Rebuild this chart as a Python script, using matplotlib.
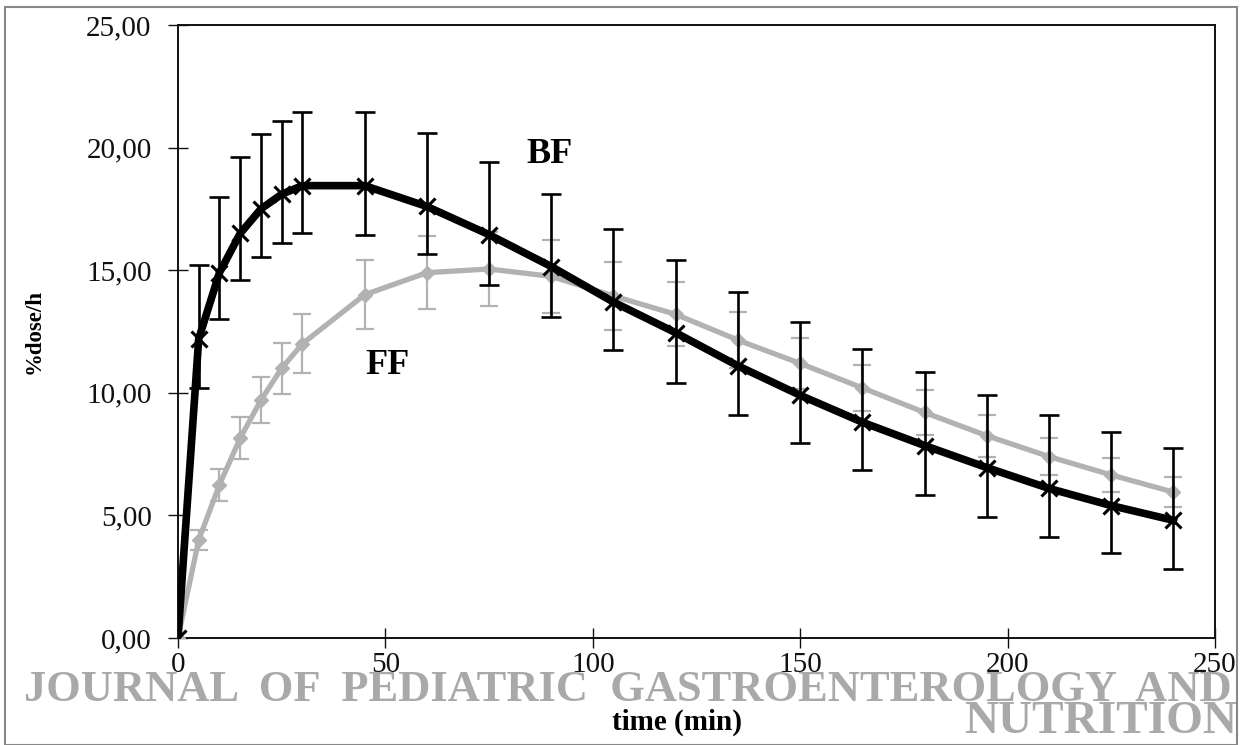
import matplotlib
matplotlib.use("Agg")
import matplotlib.pyplot as plt
from matplotlib.patches import Rectangle
from matplotlib.ticker import FuncFormatter
import numpy as np

# time points (min)
time_min = [0, 5, 10, 15, 20, 25, 30, 45, 60, 75, 90, 105, 120, 135, 150,
            165, 180, 195, 210, 225, 240]

# BF series: curve values and the ends of the error bars
bf_mean = [0, 12.2, 14.9, 16.5, 17.5, 18.1, 18.45, 18.45, 17.6, 16.45, 15.15,
           13.7, 12.45, 11.1, 9.9, 8.8, 7.85, 6.95, 6.1, 5.4, 4.8]
bf_top = [0, 15.2, 18.0, 19.6, 20.55, 21.1, 21.45, 21.45, 20.6, 19.4, 18.1,
          16.7, 15.4, 14.1, 12.9, 11.8, 10.85, 9.9, 9.1, 8.4, 7.75]
bf_bottom = [0, 10.2, 13.0, 14.6, 15.55, 16.1, 16.5, 16.45, 15.65, 14.4, 13.1,
             11.75, 10.4, 9.1, 7.95, 6.85, 5.85, 4.95, 4.1, 3.45, 2.8]

# FF series: curve values and symmetric error
ff_mean = [0, 4.0, 6.25, 8.15, 9.7, 11.0, 12.0, 14.0, 14.9, 15.05, 14.75,
           13.95, 13.2, 12.15, 11.2, 10.2, 9.2, 8.25, 7.4, 6.65, 5.95]
ff_err = [0, 0.4, 0.65, 0.85, 0.95, 1.05, 1.2, 1.4, 1.5, 1.5, 1.5,
          1.4, 1.3, 1.15, 1.05, 0.95, 0.9, 0.85, 0.75, 0.7, 0.6]

y_ticks = [0, 5, 10, 15, 20, 25]
x_ticks = [0, 50, 100, 150, 200, 250]

serif = ['Liberation Serif', 'DejaVu Serif']
gray = '#b2b2b2'
mark_gray = '#a9a9a9'

fig = plt.figure(figsize=(12.41, 7.45), dpi=100)
ax = fig.add_axes([0.1434, 0.1436, 0.8356, 0.8228])

t = np.array(time_min)
bf = np.array(bf_mean)
ff = np.array(ff_mean)

# FF error bars and line
ax.errorbar(t[1:], ff[1:], yerr=np.array(ff_err)[1:], fmt='none',
            ecolor=gray, elinewidth=1.6, capsize=6.5, capthick=1.6, zorder=2)
ax.plot(t, ff, color=gray, lw=3.8, marker='D', ms=7, mfc=gray, mec=gray,
        zorder=3)

# BF error bars and line
bf_yerr = np.array([bf - np.array(bf_bottom), np.array(bf_top) - bf])
ax.errorbar(t[1:], bf[1:], yerr=bf_yerr[:, 1:], fmt='none',
            ecolor='black', elinewidth=1.9, capsize=7.5, capthick=1.9, zorder=4)
ax.plot(t, bf, color='black', lw=5.5, marker='x', ms=12, mew=2.2,
        mec='black', zorder=5)

ax.set_xlim(0, 250)
ax.set_ylim(0, 25)
ax.set_xticks(x_ticks)
ax.set_yticks(y_ticks)
ax.yaxis.set_major_formatter(FuncFormatter(lambda v, p: f"{v:.2f}".replace('.', ',')))

for s in ax.spines.values():
    s.set_linewidth(1.4)
    s.set_color('#111111')

ax.tick_params(direction='inout', length=14, width=1.0, colors='#111111',
               labelsize=21, pad=3)
ax.tick_params(axis='y', pad=12)
for lab in ax.get_xticklabels() + ax.get_yticklabels():
    lab.set_family(serif)

ax.set_ylabel('%dose/h', family=serif, fontweight='bold', fontsize=16.5,
              labelpad=30)

# series labels
ax.text(89.5, 19.7, 'BF', family=serif, fontweight='bold', fontsize=26,
        ha='center', va='center')
ax.text(50.5, 11.1, 'FF', family=serif, fontweight='bold', fontsize=26,
        ha='center', va='center')

# x label and journal watermark (watermark sits behind the tick labels)
fig.text(0.5455, 0.031, 'time (min)', family=serif, fontweight='bold',
         fontsize=21, ha='center', va='center')
fig.text(0.5055, 0.074, 'JOURNAL  OF  PEDIATRIC  GASTROENTEROLOGY  AND',
         family=serif, fontweight='bold', fontsize=32, color=mark_gray,
         ha='center', va='center', zorder=-1)
fig.text(0.997, 0.031, 'NUTRITION', family=serif, fontweight='bold',
         fontsize=34, color=mark_gray, ha='right', va='center', zorder=-1)

# thin frame around the figure
fig.patches.append(Rectangle((0.004, 0.0), 0.993, 0.99, transform=fig.transFigure,
                             fill=False, lw=1.5, edgecolor='#888888'))

fig.savefig('out.png', dpi=100, facecolor='white')
